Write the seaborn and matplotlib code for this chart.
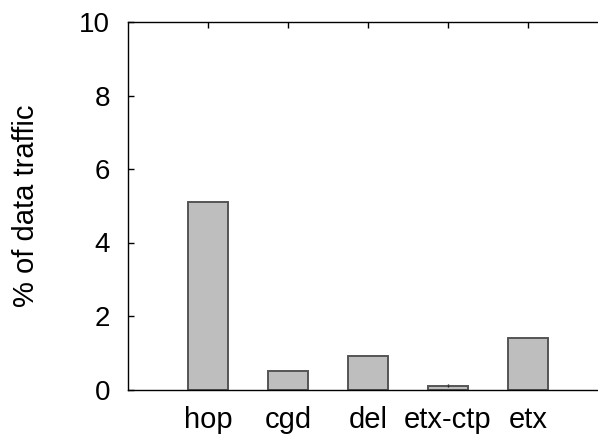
import pandas as pd
import matplotlib.pyplot as plt
import seaborn as sns

# data
metrics = ["hop", "cgd", "del", "etx-ctp", "etx"]
traffic_pct = [5.1, 0.5, 0.9, 0.1, 1.4]
traffic_err = [0.0, 0.0, 0.0, 0.03, 0.0]
y_ticks = [0, 2, 4, 6, 8, 10]

sns.set_style("white")
plt.rcParams["font.family"] = ["Liberation Sans", "DejaVu Sans"]
plt.rcParams["text.color"] = "black"
plt.rcParams["axes.labelcolor"] = "black"
plt.rcParams["xtick.color"] = "black"
plt.rcParams["ytick.color"] = "black"

df = pd.DataFrame({"metric": metrics, "pct": traffic_pct})

fig = plt.figure(figsize=(5.98, 4.41), dpi=100)
ax = fig.add_axes([128 / 598, 1 - 389.5 / 441, 1 - 128 / 598, (389.5 - 22) / 441])

sns.barplot(data=df, x="metric", y="pct", color="#bebebe", edgecolor="#555555",
            linewidth=1.4, width=0.5, saturation=1, errorbar=None, ax=ax)

# tiny error bar on etx-ctp
idx = metrics.index("etx-ctp")
ax.errorbar(idx, traffic_pct[idx], yerr=traffic_err[idx], fmt="none",
            ecolor="#222222", elinewidth=1.0, capsize=0)

ax.set_xlim(-1, 4.875)
ax.set_ylim(0, 10)
ax.set_yticks(y_ticks)
ax.set_xlabel("")
ax.set_ylabel("% of data traffic", fontsize=21, labelpad=28)

ax.tick_params(axis="y", direction="in", length=4.3, width=1, pad=13,
               labelsize=20, left=True, right=False)
ax.tick_params(axis="x", direction="in", length=4.3, width=1, pad=12,
               labelsize=21, top=True, bottom=True)

for side in ["left", "top", "bottom"]:
    ax.spines[side].set_visible(True)
    ax.spines[side].set_color("black")
    ax.spines[side].set_linewidth(1.0)
ax.spines["right"].set_visible(False)

fig.savefig("out.png", dpi=100)
